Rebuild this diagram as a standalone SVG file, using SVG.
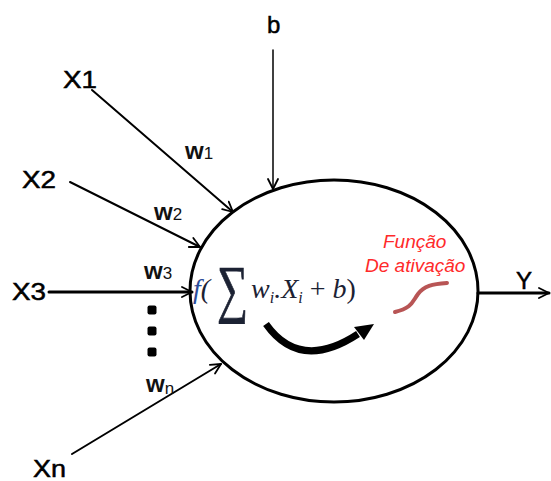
<svg xmlns="http://www.w3.org/2000/svg" width="551" height="481" viewBox="0 0 551 481">
<defs>
<style>
.lbl{font-family:"Liberation Sans",Arial,sans-serif;font-size:24px;fill:#000;stroke:#000;stroke-width:0.5}
.w{font-family:"Liberation Sans",Arial,sans-serif;font-size:24px;font-weight:bold;fill:#111}
.sub{font-size:17px;font-weight:normal}
.conn{stroke:#000;fill:none;stroke-linecap:round}
.red{font-family:"Liberation Sans",Arial,sans-serif;font-style:italic;font-size:19px;fill:#ff2a2a}
.math{font-family:"Liberation Serif","Times New Roman",serif;font-style:italic;font-size:28px;fill:#1c2233}
</style>
<marker id="arr" markerUnits="userSpaceOnUse" markerWidth="14" markerHeight="14" refX="11" refY="6" orient="auto" viewBox="0 0 14 12">
<path d="M1,1 L11,6 L1,11" fill="none" stroke="#000" stroke-width="1.8" stroke-linecap="round" stroke-linejoin="round"/>
</marker>
</defs>
<rect width="551" height="481" fill="#fff"/>

<g id="connectors">
<line class="conn" x1="273" y1="50" x2="273" y2="189" stroke-width="1.5" marker-end="url(#arr)"/>
<line class="conn" x1="92" y1="90" x2="233" y2="212" stroke-width="2" marker-end="url(#arr)"/>
<line class="conn" x1="70" y1="182" x2="200" y2="247" stroke-width="2" marker-end="url(#arr)"/>
<line class="conn" x1="49" y1="292" x2="192" y2="292" stroke-width="3" marker-end="url(#arr)"/>
<line class="conn" x1="72" y1="454" x2="221" y2="364" stroke-width="2" marker-end="url(#arr)"/>
<line class="conn" x1="478" y1="293" x2="549" y2="293" stroke-width="3" marker-end="url(#arr)"/>
</g>

<g id="neuron">
<ellipse cx="334" cy="291" rx="144" ry="111" fill="none" stroke="#000" stroke-width="3"/>
<text class="math" x="193" y="298"><tspan fill="#2d4d9a">f</tspan>(</text>
<text transform="translate(217,310) scale(0.68,1)" x="0" y="0" font-family="'Liberation Serif','Times New Roman',serif" font-size="64" fill="#1c2233" stroke="#1c2233" stroke-width="0.8">∑</text>
<text class="math" x="251" y="298">w<tspan font-size="16" dy="5">i</tspan><tspan dy="-5">.X</tspan><tspan font-size="16" dy="5">i</tspan><tspan dy="-5" font-style="normal"> + </tspan>b<tspan font-style="normal">)</tspan></text>
<path d="M266 324 Q300 372 358 334" fill="none" stroke="#000" stroke-width="7"/>
<polygon points="374,324 354,327 364,340" fill="#000"/>
<text class="red" x="383" y="248">Função</text>
<text class="red" x="365" y="272">De ativação</text>
<path d="M395 312 C412 308 412 302 418 294 C424 286 432 284 447 283" fill="none" stroke="#b85555" stroke-width="4" stroke-linecap="round"/>
</g>

<g id="b"><text class="lbl" x="267" y="33">b</text></g>
<g id="x1"><text class="lbl" x="63" y="88" textLength="34" lengthAdjust="spacingAndGlyphs">X1</text></g>
<g id="x2"><text class="lbl" x="22" y="188" textLength="34" lengthAdjust="spacingAndGlyphs">X2</text></g>
<g id="x3"><text class="lbl" x="12" y="300" textLength="34" lengthAdjust="spacingAndGlyphs">X3</text></g>
<g id="xn"><text class="lbl" x="33" y="477" textLength="33" lengthAdjust="spacingAndGlyphs">Xn</text></g>
<g id="y"><text class="lbl" x="516" y="289">Y</text></g>

<g id="weights">
<text class="w" x="185" y="159">w<tspan class="sub">1</tspan></text>
<text class="w" x="154" y="220">w<tspan class="sub">2</tspan></text>
<text class="w" x="144" y="279">w<tspan class="sub">3</tspan></text>
<text class="w" x="146" y="392">w<tspan class="sub" dy="2">n</tspan></text>
</g>

<g id="dots" fill="#000">
<rect x="147.5" y="305.5" width="9" height="9" rx="2"/>
<rect x="147.5" y="326.5" width="9" height="9" rx="2"/>
<rect x="147.5" y="347.5" width="9" height="9" rx="2"/>
</g>
</svg>
